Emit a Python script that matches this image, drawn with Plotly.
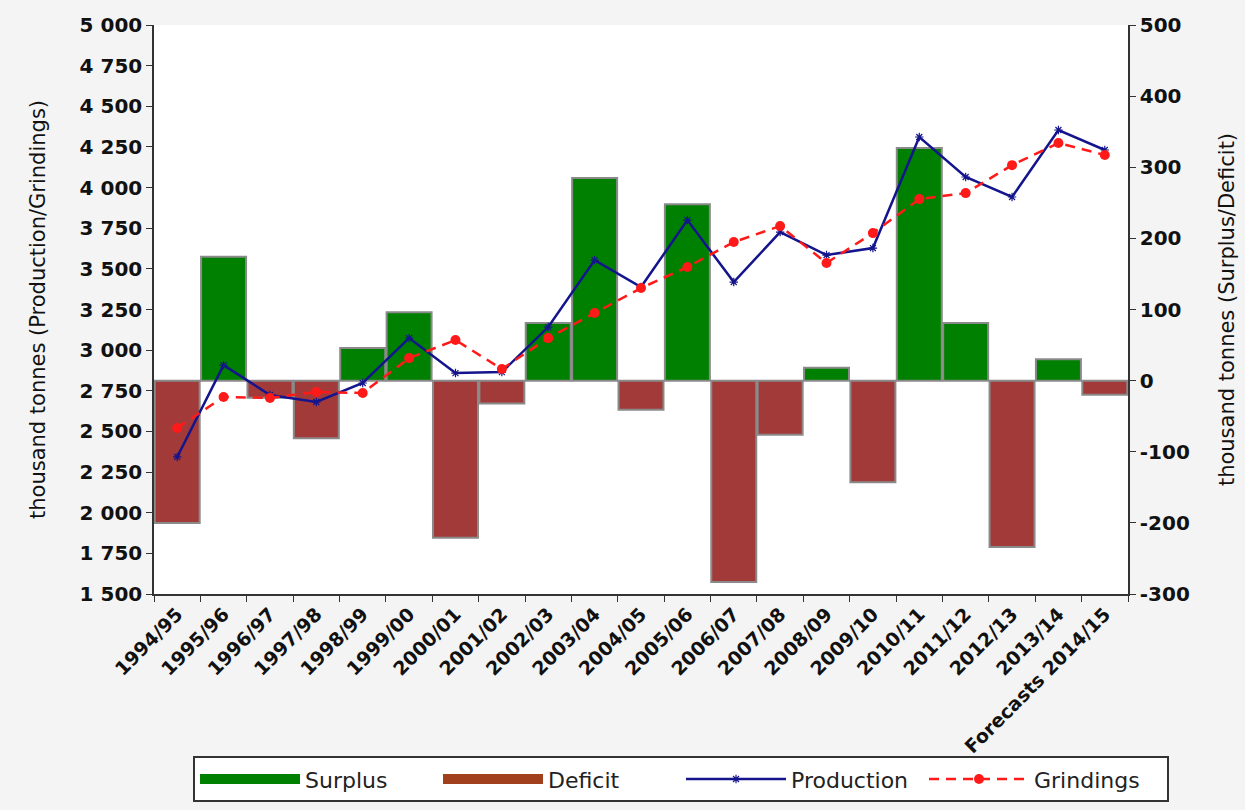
import plotly.graph_objects as go

seasons = ["1994/95", "1995/96", "1996/97", "1997/98", "1998/99", "1999/00",
           "2000/01", "2001/02", "2002/03", "2003/04", "2004/05", "2005/06",
           "2006/07", "2007/08", "2008/09", "2009/10", "2010/11", "2011/12",
           "2012/13", "2013/14", "Forecasts 2014/15"]

# surplus (+) / deficit (-), thousand tonnes
balance = [-200, 174, -24, -81, 46, 96, -221, -32, 81, 285, -41, 248,
           -283, -76, 18, -143, 327, 81, -234, 30, -20]

production = [2343, 2908, 2724, 2681, 2798, 3074, 2859, 2865, 3142, 3554, 3388,
              3800, 3419, 3726, 3585, 3628, 4311, 4065, 3942, 4354, 4231]

grindings = [2521, 2712, 2706, 2743, 2736, 2951, 3062, 2884, 3074, 3228, 3382,
             3511, 3665, 3763, 3536, 3720, 3929, 3966, 4138, 4274, 4200]

balance_ticks = [-300, -200, -100, 0, 100, 200, 300, 400, 500]

surplus = [v if v > 0 else None for v in balance]
deficit = [v if v < 0 else None for v in balance]

FONT = "DejaVu Sans, Arial, sans-serif"
GREEN = "#008000"
BROWN = "#a33a3a"

fig = go.Figure()
# bars on the base (right-hand) axis so the lines overlay them
fig.add_trace(go.Bar(x=seasons, y=surplus, name="Surplus", yaxis="y", showlegend=False,
                     marker=dict(color=GREEN, line=dict(color="#8a8a8a", width=2))))
fig.add_trace(go.Bar(x=seasons, y=deficit, name="Deficit", yaxis="y", showlegend=False,
                     marker=dict(color=BROWN, line=dict(color="#8a8a8a", width=2))))
# wide swatches for the bar series in the legend
fig.add_trace(go.Scatter(x=[None], y=[None], name="Surplus", mode="lines", yaxis="y",
                         legendrank=1, line=dict(color=GREEN, width=12)))
fig.add_trace(go.Scatter(x=[None], y=[None], name="Deficit", mode="lines", yaxis="y",
                         legendrank=2, line=dict(color="#a0401c", width=12)))
fig.add_trace(go.Scatter(x=seasons, y=production, name="Production", mode="lines+markers",
                         yaxis="y2", legendrank=3,
                         line=dict(color="#14148c", width=2.5),
                         marker=dict(symbol="asterisk", size=7, color="#14148c",
                                     line=dict(color="#14148c", width=1.2))))
fig.add_trace(go.Scatter(x=seasons, y=grindings, name="Grindings", mode="lines+markers",
                         yaxis="y2", legendrank=4,
                         line=dict(color="#ff1a1a", width=2.5, dash="10px,7px"),
                         marker=dict(symbol="circle", size=10, color="#ff1a1a")))

fig.update_layout(
    width=1245, height=810,
    margin=dict(l=154, r=117, t=25, b=216),
    paper_bgcolor="#f4f4f4", plot_bgcolor="#ffffff",
    separators=". ",
    barmode="overlay", bargap=0.03,
    font=dict(family=FONT, color="#111111"),
    showlegend=True,
    legend=dict(orientation="h", xref="container", x=0.547, xanchor="center",
                yref="container", y=0.038, yanchor="middle",
                bgcolor="#ffffff", bordercolor="#333333", borderwidth=2,
                font=dict(size=22, family=FONT, color="#222222"),
                entrywidth=128, entrywidthmode="pixels", itemwidth=100,
                traceorder="normal"),
    xaxis=dict(type="category", tickangle=-45, tickson="boundaries", automargin=False,
               ticks="outside", ticklen=6, tickcolor="#333333",
               showline=True, linecolor="#333333", linewidth=1.5,
               showgrid=False, tickfont=dict(size=19, family=FONT, weight="bold"),
               range=[-0.5, 20.5]),
    yaxis=dict(range=[-300, 500], side="right", automargin=False,
               tickvals=balance_ticks, ticktext=[str(v) for v in balance_ticks],
               ticks="outside", ticklen=6, tickcolor="#333333",
               showline=True, linecolor="#333333", linewidth=1.5,
               showgrid=False, zeroline=False,
               tickfont=dict(size=20, family=FONT, weight="bold"),
               title=dict(text="thousand tonnes (Surplus/Deficit)",
                          font=dict(size=21, family=FONT), standoff=30)),
    yaxis2=dict(range=[1500, 5000], dtick=250, tickformat=",d", automargin=False,
                overlaying="y", side="left",
                ticks="outside", ticklen=6, tickcolor="#333333",
                showline=True, linecolor="#333333", linewidth=1.5,
                showgrid=False, zeroline=False,
                tickfont=dict(size=20, family=FONT, weight="bold"),
                title=dict(text="thousand tonnes (Production/Grindings)",
                           font=dict(size=21, family=FONT), standoff=28)),
)

fig.write_html("out.html")
